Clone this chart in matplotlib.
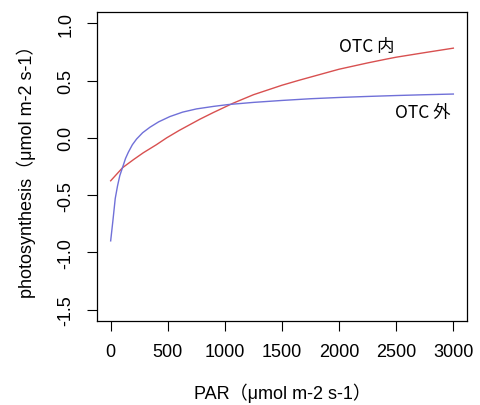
import numpy as np
import matplotlib.pyplot as plt

# OTC 外 (blue)
par_out = [0, 20, 40, 60, 80, 105, 130, 155, 190, 227, 280, 344, 420, 518, 630,
           751, 900, 1028, 1250, 1500, 1750, 2000, 2250, 2500, 2750, 3000]
ps_out = [-0.90, -0.72, -0.53, -0.42, -0.33, -0.256, -0.18, -0.125, -0.06, -0.01,
          0.045, 0.093, 0.14, 0.186, 0.225, 0.253, 0.275, 0.291, 0.31, 0.327,
          0.342, 0.353, 0.362, 0.370, 0.377, 0.383]

# OTC 内 (red)
par_in = [0, 105, 200, 286, 400, 490, 600, 781, 900, 1072, 1250, 1500, 1655,
          1800, 2000, 2250, 2412, 2500, 2750, 3000]
ps_in = [-0.375, -0.26, -0.19, -0.13, -0.06, 0.0, 0.065, 0.163, 0.222, 0.303,
         0.377, 0.46, 0.505, 0.545, 0.60, 0.655, 0.688, 0.705, 0.745, 0.784]

xticks = [0, 500, 1000, 1500, 2000, 2500, 3000]
yticks = [-1.5, -1.0, -0.5, 0.0, 0.5, 1.0]

fam = ['Liberation Sans', 'Noto Sans CJK JP']
cjk = ['Noto Sans CJK JP', 'DejaVu Sans']

fig = plt.figure(figsize=(4.8, 4.06), dpi=100)
ax = fig.add_axes([0.202, 0.207, 0.771, 0.761])

ax.plot(par_in, ps_in, color='#d85050', lw=1)
ax.plot(par_out, ps_out, color='#7070d8', lw=1)

ax.text(2240, 0.804, 'OTC 内', ha='center', va='center', fontsize=12.5, family=cjk)
ax.text(2730, 0.227, 'OTC 外', ha='center', va='center', fontsize=12.5, family=cjk)

ax.set_xlim(-120, 3120)
ax.set_ylim(-1.6, 1.1)
ax.set_xticks(xticks)
ax.set_xticklabels([str(v) for v in xticks], family=fam, fontsize=13)
ax.set_yticks(yticks)
ax.set_yticklabels(['%.1f' % v for v in yticks], family=fam, fontsize=13,
                   rotation=90, va='center')
ax.tick_params(direction='out', length=7, width=0.8, pad=9)

for s in ax.spines.values():
    s.set_linewidth(0.9)

ax.set_xlabel('PAR（μmol m-2 s-1）', family=fam, fontsize=13, labelpad=16)
ax.set_ylabel('photosynthesis（μmol m-2 s-1）', family=fam, fontsize=13, labelpad=16)

fig.savefig('out.png', dpi=100)
